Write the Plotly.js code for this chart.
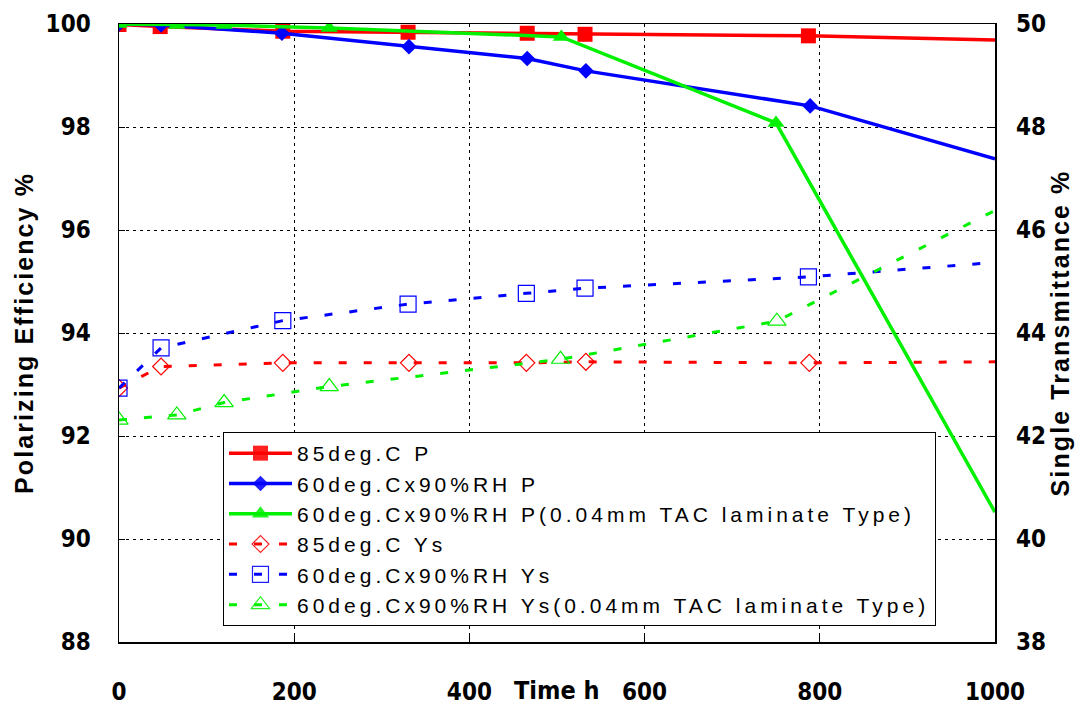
<!DOCTYPE html>
<html>
<head>
<meta charset="utf-8">
<script src="https://cdn.plot.ly/plotly-3.0.1.min.js"></script>
<style>
html,body{margin:0;padding:0;background:#fff;}
#chart{width:1088px;height:707px;}
.legendtext{letter-spacing:4px;}
.ytitle,.y2title{letter-spacing:2.1px;}
</style>
</head>
<body>
<div id="chart"></div>
<script>
// Time (h) and values
const names = [
  "85deg.C P",
  "60deg.Cx90%RH P",
  "60deg.Cx90%RH P(0.04mm TAC laminate Type)",
  "85deg.C Ys",
  "60deg.Cx90%RH Ys",
  "60deg.Cx90%RH Ys(0.04mm TAC laminate Type)"
];
// Polarizing efficiency (left axis)
const tRedP   = [0, 47, 187, 330, 466, 532, 787, 1000];
const vRedP   = [99.99, 99.95, 99.86, 99.84, 99.82, 99.80, 99.77, 99.69];
const tBlueP  = [0, 48, 186, 331, 466, 533, 789, 1000];
const vBlueP  = [100.0, 99.98, 99.82, 99.56, 99.33, 99.09, 98.41, 97.38];
const tGreenP = [0, 66, 120, 240, 505, 750, 1000];
const vGreenP = [100.0, 99.98, 99.98, 99.92, 99.75, 98.08, 90.52];
// Single transmittance (right axis)
const tRedYs   = [0, 48, 187, 331, 465, 533, 788, 1000];
const vRedYs   = [42.93, 43.35, 43.42, 43.42, 43.42, 43.44, 43.42, 43.44];
const tBlueYs  = [0, 48, 187, 330, 465, 532, 787, 1000];
const vBlueYs  = [42.93, 43.71, 44.24, 44.56, 44.77, 44.87, 45.09, 45.37];
const tGreenYs = [0, 66, 120, 240, 504, 751, 1000];
const vGreenYs = [42.31, 42.41, 42.65, 42.96, 43.49, 44.23, 46.38];

const xTicks = [0, 200, 400, 600, 800, 1000];
const yLeftTicks = [88, 90, 92, 94, 96, 98, 100];
const yRightTicks = [38, 40, 42, 44, 46, 48, 50];

// the last point of each series (at the axis end) carries no marker
function hideLast(n){ const a = new Array(n).fill(1); a[n-1] = 0; return a; }

const RED = "#ff0000", BLUE = "#0000ff", GREEN = "#00f000";

const traces = [
  {x: tRedP, y: vRedP, name: names[0], mode: "lines+markers", yaxis: "y",
   line: {color: RED, width: 3.5}, marker: {symbol: "square", size: 15, color: RED, opacity: hideLast(tRedP.length)}},
  {x: tBlueP, y: vBlueP, name: names[1], mode: "lines+markers", yaxis: "y",
   line: {color: BLUE, width: 3.5}, marker: {symbol: "diamond", size: 12, color: BLUE, opacity: hideLast(tBlueP.length)}},
  {x: tGreenP, y: vGreenP, name: names[2], mode: "lines+markers", yaxis: "y",
   line: {color: GREEN, width: 3.5}, marker: {symbol: "triangle-up", size: 15, color: GREEN, opacity: hideLast(tGreenP.length)}},
  {x: tRedYs, y: vRedYs, name: names[3], mode: "lines+markers", yaxis: "y2",
   line: {color: RED, width: 3, dash: "8px,17px"}, marker: {symbol: "diamond-open", size: 13, color: RED, line: {width: 1.2}, opacity: hideLast(tRedYs.length)}},
  {x: tBlueYs, y: vBlueYs, name: names[4], mode: "lines+markers", yaxis: "y2",
   line: {color: BLUE, width: 3, dash: "8px,17px"}, marker: {symbol: "square-open", size: 16, color: BLUE, line: {width: 1.2}, opacity: hideLast(tBlueYs.length)}},
  {x: tGreenYs, y: vGreenYs, name: names[5], mode: "lines+markers", yaxis: "y2",
   line: {color: GREEN, width: 3, dash: "8px,17px"}, marker: {symbol: "triangle-up-open", size: 16, color: GREEN, line: {width: 1.2}, opacity: hideLast(tGreenYs.length)}}
];

const narrow = "DejaVu Sans Condensed, Liberation Sans Narrow, Arial Narrow, sans-serif";
const tickFont = {family: narrow, size: 24, color: "#000", weight: "bold"};
const titleFont = {family: "Liberation Sans, Arial, sans-serif", size: 25, color: "#000", weight: "bold"};

const layout = {
  width: 1088, height: 707,
  paper_bgcolor: "#fff", plot_bgcolor: "#fff",
  margin: {l: 119, r: 93, t: 24, b: 65, pad: 0},
  showlegend: true,
  legend: {
    x: 0.1187, y: 0.3398, xanchor: "left", yanchor: "top",
    bgcolor: "#fff", bordercolor: "#000", borderwidth: 1,
    font: {family: "Liberation Sans, Arial, sans-serif", size: 21, color: "#000"},
    tracegroupgap: 0, itemwidth: 63
  },
  xaxis: {
    range: [0, 1000], tickvals: xTicks, ticktext: xTicks.map(String),
    showgrid: true, gridcolor: "#000", griddash: "3px,4px", gridwidth: 1,
    showline: true, linecolor: "#000", linewidth: 1.5, mirror: true,
    ticks: "inside", ticklen: 6, tickcolor: "#000",
    tickfont: tickFont, ticklabelstandoff: 28, zeroline: false
  },
  yaxis: {
    range: [88, 100], tickvals: yLeftTicks, ticktext: yLeftTicks.map(String),
    showgrid: true, gridcolor: "#000", griddash: "3px,4px", gridwidth: 1,
    showline: true, linecolor: "#000", linewidth: 1.5, mirror: true,
    ticks: "inside", ticklen: 6, tickcolor: "#000",
    tickfont: tickFont, ticklabelstandoff: 22, zeroline: false,
    title: {text: "Polarizing Efficiency %", font: titleFont, standoff: 5}
  },
  yaxis2: {
    range: [38, 50], tickvals: yRightTicks, ticktext: yRightTicks.map(String),
    overlaying: "y", side: "right", showgrid: false,
    showline: false, ticks: "inside", ticklen: 6, tickcolor: "#000",
    tickfont: tickFont, ticklabelstandoff: 20, zeroline: false,
    title: {text: "Single Transmittance %", font: titleFont, standoff: 6}
  },
  annotations: [{
    text: "Time h", xref: "x", yref: "paper", x: 500, y: -0.078,
    yanchor: "middle", xanchor: "center", showarrow: false,
    font: {family: narrow, size: 25, color: "#000", weight: "bold"}
  }]
};

Plotly.newPlot("chart", traces, layout, {displayModeBar: false, staticPlot: true});
</script>
</body>
</html>
